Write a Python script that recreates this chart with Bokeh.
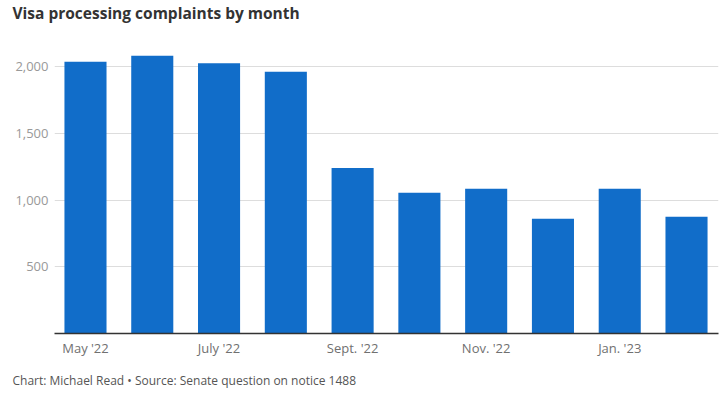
from bokeh.plotting import figure
from bokeh.models import FixedTicker, Range1d, NumeralTickFormatter, Title
from bokeh.embed import file_html
from bokeh.resources import INLINE

months = ["May '22", "June '22", "July '22", "Aug. '22", "Sept. '22",
          "Oct. '22", "Nov. '22", "Dec. '22", "Jan. '23", "Feb. '23"]
complaints = [2035, 2080, 2025, 1960, 1240, 1055, 1085, 860, 1085, 875]
y_ticks = [500, 1000, 1500, 2000]
shown_ticks = [0, 2, 4, 6, 8]
title_text = "Visa processing complaints by month"
footer_text = "Chart: Michael Read \u2022 Source: Senate question on notice 1488"

FONT = "Open Sans"

p = figure(width=724, height=396, output_backend="svg", toolbar_location=None,
           x_range=Range1d(-0.464, 9.479), y_range=Range1d(0, 2210),
           min_border_left=54, min_border_right=6, min_border_top=38,
           min_border_bottom=63, title=None)

xs = list(range(len(months)))
p.vbar(x=xs, top=complaints, width=0.63, color="#116dc9", line_color=None)

# spacer between frame and title (closest to frame)
p.add_layout(Title(text=" ", text_font_size="1px", standoff=10), "above")
p.add_layout(Title(text=title_text, text_font=FONT, text_font_size="15.5px",
                   text_font_style="bold", text_color="#333333", align="left",
                   vertical_align="top", offset=-42, standoff=0), "above")

# spacer between x axis and footer
p.add_layout(Title(text=" ", text_font_size="1px", standoff=6), "below")
foot = Title(text=footer_text, text_font=FONT, text_font_size="12px",
             text_font_style="normal", text_color="#555555", align="left",
             vertical_align="bottom", offset=-42, standoff=3)
p.add_layout(foot, "below")

# x axis
p.xaxis.ticker = FixedTicker(ticks=shown_ticks)
p.xaxis.major_label_overrides = {i: months[i] for i in shown_ticks}
p.xaxis.major_tick_line_color = None
p.xaxis.major_tick_out = 0
p.xaxis.major_tick_in = 0
p.xaxis.minor_tick_line_color = None
p.xaxis.axis_line_color = "#333333"
p.xaxis.axis_line_width = 1.3
p.xaxis.major_label_text_font = FONT
p.xaxis.major_label_text_font_size = "13px"
p.xaxis.major_label_text_color = "#707070"
p.xaxis.major_label_standoff = 5

# y axis
p.yaxis.ticker = FixedTicker(ticks=y_ticks)
p.yaxis.formatter = NumeralTickFormatter(format="0,0")
p.yaxis.axis_line_color = None
p.yaxis.major_tick_line_color = None
p.yaxis.major_tick_out = 0
p.yaxis.major_tick_in = 0
p.yaxis.minor_tick_line_color = None
p.yaxis.major_label_text_font = FONT
p.yaxis.major_label_text_font_size = "13px"
p.yaxis.major_label_text_color = "#999999"
p.yaxis.major_label_standoff = 6

p.xgrid.grid_line_color = None
p.ygrid.ticker = FixedTicker(ticks=y_ticks)
p.ygrid.grid_line_color = "#dddddd"
p.outline_line_color = None

open("out.html", "w").write(file_html(p, INLINE))
